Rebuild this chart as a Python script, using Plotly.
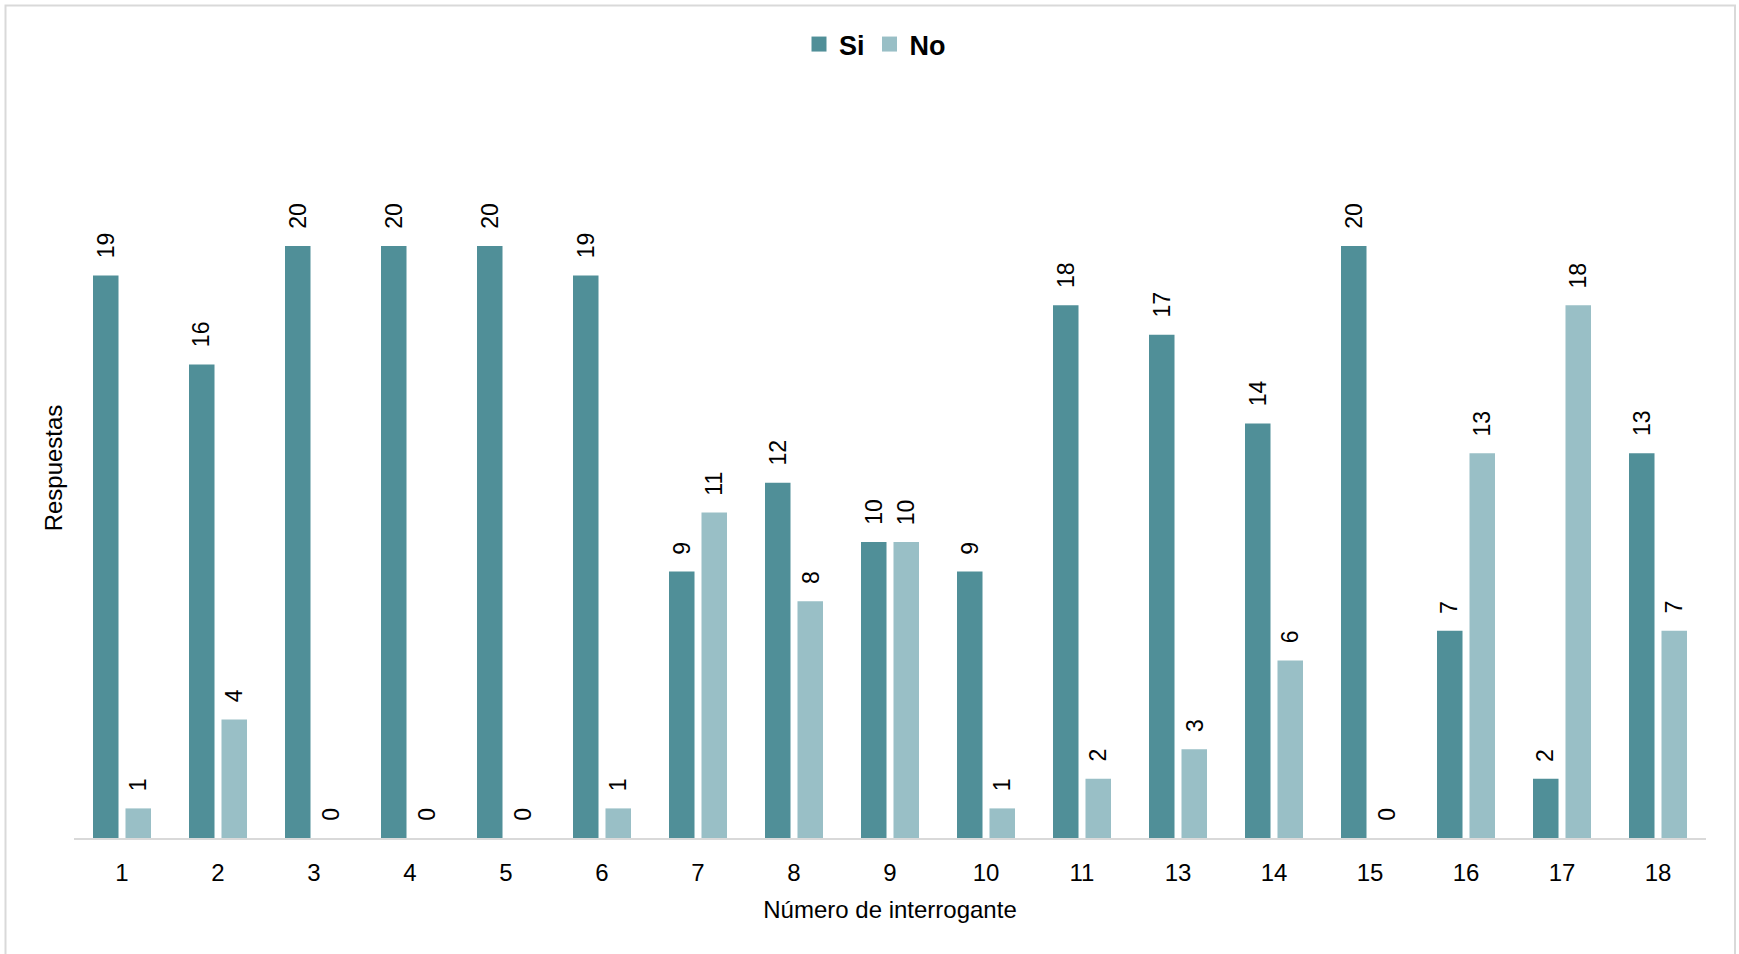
import plotly.graph_objects as go

# Question numbers and answer counts
preguntas = ["1", "2", "3", "4", "5", "6", "7", "8", "9", "10",
             "11", "13", "14", "15", "16", "17", "18"]
si = [19, 16, 20, 20, 20, 19, 9, 12, 10, 9, 18, 17, 14, 20, 7, 2, 13]
no = [1, 4, 0, 0, 0, 1, 11, 8, 10, 1, 2, 3, 6, 0, 13, 18, 7]

COLOR_SI = "#508F98"
COLOR_NO = "#99BFC6"
FONT = "Liberation Sans, Arial, sans-serif"

W, H = 1739, 954
ML, MR, MT, MB = 74, 33, 98, 116
PW = W - ML - MR
PH = H - MT - MB

fig = go.Figure()
fig.add_trace(go.Bar(name="Si", x=preguntas, y=si, marker_color=COLOR_SI,
                     marker_line_width=0, showlegend=False))
fig.add_trace(go.Bar(name="No", x=preguntas, y=no, marker_color=COLOR_NO,
                     marker_line_width=0, showlegend=False))

# Legend entries with larger square swatches
for nombre, color in (("Si", COLOR_SI), ("No", COLOR_NO)):
    fig.add_trace(go.Scatter(
        name=nombre, x=[None], y=[None], mode="markers",
        marker=dict(symbol="square", size=15, color=color),
        showlegend=True, hoverinfo="skip",
    ))

# Value labels, rotated, sitting above each bar.
# On a category axis, numeric annotation x values are category indices.
slot = PW / len(preguntas) * (1 - 0.323) / 2
annotations = []
for serie, shift in ((si, -slot / 2), (no, slot / 2)):
    for idx, val in enumerate(serie):
        annotations.append(dict(
            x=idx, y=val, xref="x", yref="y", text=str(val),
            showarrow=False, textangle=-90, xanchor="center",
            yanchor="bottom", xshift=shift, yshift=15,
            font=dict(family=FONT, size=23, color="#000000"),
        ))

# Light frame around the chart area
shapes = [dict(
    type="rect", xref="paper", yref="paper",
    x0=(5.5 - ML) / PW, x1=(1735 - ML) / PW,
    y0=(H - MB - 960) / PH, y1=(H - MB - 5.5) / PH,
    line=dict(color="#D9D9D9", width=2), fillcolor="rgba(0,0,0,0)",
    layer="below",
)]

fig.update_layout(
    width=W, height=H,
    margin=dict(l=ML, r=MR, t=MT, b=MB, pad=0),
    paper_bgcolor="white", plot_bgcolor="white",
    barmode="group", bargap=0.323, bargroupgap=0.215,
    font=dict(family=FONT, size=24, color="#000000"),
    showlegend=True,
    legend=dict(orientation="h", x=(875 - ML) / PW, xanchor="center",
                y=(H - MB - 44.5) / PH, yanchor="middle",
                font=dict(family=FONT, size=27, color="#000000", weight="bold"),
                itemwidth=30, traceorder="normal"),
    annotations=annotations,
    shapes=shapes,
)
fig.update_xaxes(
    type="category", range=[-0.5, len(preguntas) - 0.5],
    showline=True, linecolor="#D9D9D9", linewidth=2,
    showgrid=False, zeroline=False, ticks="", ticklabelstandoff=12,
    tickfont=dict(family=FONT, size=24, color="#000000"),
    title=dict(text="Número de interrogante", standoff=16,
               font=dict(family=FONT, size=24, color="#000000")),
)
fig.update_yaxes(
    range=[0, PH / 29.6], showline=False, showgrid=False, zeroline=False,
    showticklabels=False, ticks="",
    title=dict(text="Respuestas", standoff=3,
               font=dict(family=FONT, size=24, color="#000000")),
)

fig.write_html("out.html")
